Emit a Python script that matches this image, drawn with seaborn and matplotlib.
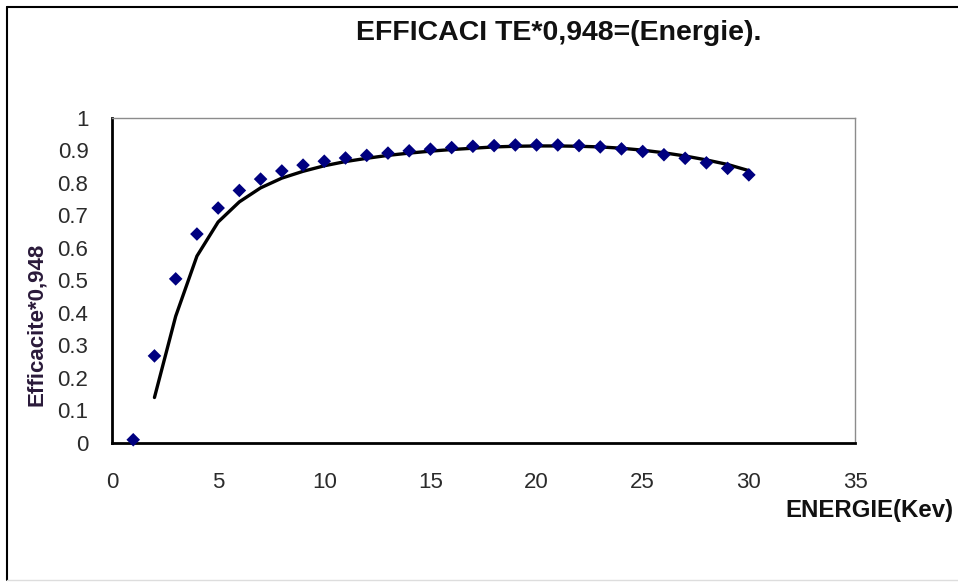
import numpy as np
import pandas as pd
import matplotlib
matplotlib.use("Agg")
import matplotlib.pyplot as plt
from matplotlib.lines import Line2D
import seaborn as sns

# données
energie = [1, 2, 3, 4, 5, 6, 7, 8, 9, 10, 11, 12, 13, 14, 15,
           16, 17, 18, 19, 20, 21, 22, 23, 24, 25, 26, 27, 28, 29, 30]
efficacite = [0.01, 0.268, 0.505, 0.643, 0.723, 0.777, 0.812, 0.837, 0.855, 0.867,
              0.877, 0.885, 0.892, 0.899, 0.904, 0.909, 0.913, 0.915, 0.917, 0.917,
              0.917, 0.915, 0.911, 0.905, 0.897, 0.887, 0.876, 0.862, 0.845, 0.825]

# courbe d'ajustement (x = 2..30)
energie_fit = list(range(2, 31))
efficacite_fit = [0.14, 0.39, 0.575, 0.68, 0.742, 0.785, 0.815, 0.836, 0.853,
                  0.866, 0.876, 0.885, 0.892, 0.898, 0.903, 0.907, 0.911, 0.913, 0.914,
                  0.914, 0.913, 0.911, 0.907, 0.901, 0.893, 0.883, 0.871, 0.857, 0.838]

df = pd.DataFrame({"energie": energie, "efficacite": efficacite})
df_fit = pd.DataFrame({"energie": energie_fit, "efficacite": efficacite_fit})

sns.set_style("white")
plt.rcParams["font.family"] = ["Liberation Sans", "DejaVu Sans"]

fig = plt.figure(figsize=(9.58, 5.85), dpi=100)
ax = fig.add_axes([112 / 958, 1 - 443 / 585, (855 - 112) / 958, (443 - 118) / 585])

sns.lineplot(data=df_fit, x="energie", y="efficacite", color="black", linewidth=2.4, ax=ax)
sns.scatterplot(data=df, x="energie", y="efficacite", marker="D", color="#000080",
                s=48, edgecolor="none", ax=ax, zorder=3, clip_on=False)

ax.set_xlim(0, 35)
ax.set_ylim(0, 1)
ax.set_xticks(range(0, 36, 5))
ax.set_yticks(np.arange(0, 1.01, 0.1))
ax.set_yticklabels(["0", "0.1", "0.2", "0.3", "0.4", "0.5", "0.6", "0.7", "0.8", "0.9", "1"])
ax.set_xlabel("")
ax.set_ylabel("")
ax.tick_params(axis="both", direction="inout", length=10, width=1.5, color="black",
               labelsize=16, labelcolor="#2b2b2b")
ax.tick_params(axis="x", pad=16)
ax.tick_params(axis="y", pad=12)

for s in ["left", "bottom"]:
    ax.spines[s].set_color("black")
    ax.spines[s].set_linewidth(2)
for s in ["top", "right"]:
    ax.spines[s].set_color("#8c8c8c")
    ax.spines[s].set_linewidth(1)

fig.text(559 / 958, 1 - 33 / 585, "EFFICACI TE*0,948=(Energie).", ha="center", va="center",
         fontsize=20.5, fontweight="bold", color="#111111")
fig.text(785 / 958, 1 - 511 / 585, "ENERGIE(Kev)", ha="left", va="center",
         fontsize=17.3, fontweight="bold", color="#111111")
fig.text(37 / 958, 1 - 324 / 585, "Efficacite*0,948", ha="center", va="center",
         rotation=90, fontsize=16, fontweight="bold", color="#2a1a3a")

# cadre du graphique
fig.add_artist(Line2D([7 / 958, 7 / 958], [5 / 585, 1 - 7 / 585], color="black", lw=1.5))
fig.add_artist(Line2D([7 / 958, 1], [1 - 7 / 585, 1 - 7 / 585], color="black", lw=1.5))
fig.add_artist(Line2D([7 / 958, 1], [5 / 585, 5 / 585], color="#dddddd", lw=1))

fig.savefig("out.png", dpi=100)
